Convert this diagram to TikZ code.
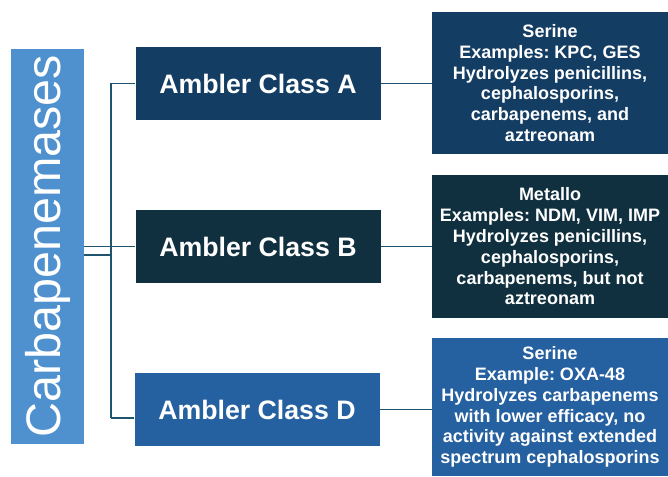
\documentclass[tikz,border=0pt]{standalone}
\usepackage{fontspec}
\usepackage{graphicx}
\setmainfont{Liberation Sans}
\frenchspacing
\definecolor{rootblue}{RGB}{79,145,206}
\definecolor{classa}{RGB}{20,61,100}
\definecolor{classb}{RGB}{16,48,63}
\definecolor{classd}{RGB}{37,96,160}
\definecolor{wire}{RGB}{30,84,110}
\begin{document}
\begin{tikzpicture}[x=1pt, y=-1pt]
\useasboundingbox (0,0) rectangle (668,476);
\node[fill=rootblue, text=white, inner sep=0pt, minimum width=73pt, minimum height=395pt,
  font=\fontsize{48.5}{50}\selectfont] (root) at (47.5,246.5) {\rotatebox{90}{Carbapenemases}};
\begin{scope}[every node/.style = {text=white, inner sep=0pt, minimum width=245pt, minimum height=73pt,
  font=\bfseries\fontsize{26.7}{30}\selectfont}]
\node[fill=classa] (A) at (258,83.5) {Ambler Class A};
\node[fill=classb] (B) at (258,246.5) {Ambler Class B};
\node[fill=classd] (D) at (257,409.5) {Ambler Class D};
\end{scope}
\begin{scope}[every node/.style = {text=white, inner sep=0pt, minimum width=236pt, align=center,
  font=\bfseries\fontsize{18}{20.8}\selectfont}]
\node[fill=classa, minimum height=142pt] (descA) at (550,83) {Serine\\Examples: KPC, GES\\Hydrolyzes penicillins,\\cephalosporins,\\carbapenems, and\\aztreonam};
\node[fill=classb, minimum height=143pt] (descB) at (550,246.5) {Metallo\\Examples: NDM, VIM, IMP\\Hydrolyzes penicillins,\\cephalosporins,\\carbapenems, but not\\aztreonam};
\node[fill=classd, minimum height=138pt] (descD) at (550,407) {Serine\\Example: OXA-48\\Hydrolyzes carbapenems\\with lower efficacy, no\\activity against extended\\spectrum cephalosporins};
\end{scope}
% bus between the root and the three classes
\coordinate (busA) at (111,83.5);
\coordinate (busD) at (111,418);
\coordinate (busR) at (111,255);
\begin{scope}[every edge/.style = {draw, wire, line width=1.4pt}]
\path (A.west) edge (busA);
\path (busA) edge (busD);
\path (busD) edge (D.west |- busD);
\path (root.east |- busR) edge (busR);
\path (root) edge (B);
\path (A) edge (A -| descA.west);
\path (B) edge (descB);
\path (D) edge (D -| descD.west);
\end{scope}
\end{tikzpicture}
\end{document}
